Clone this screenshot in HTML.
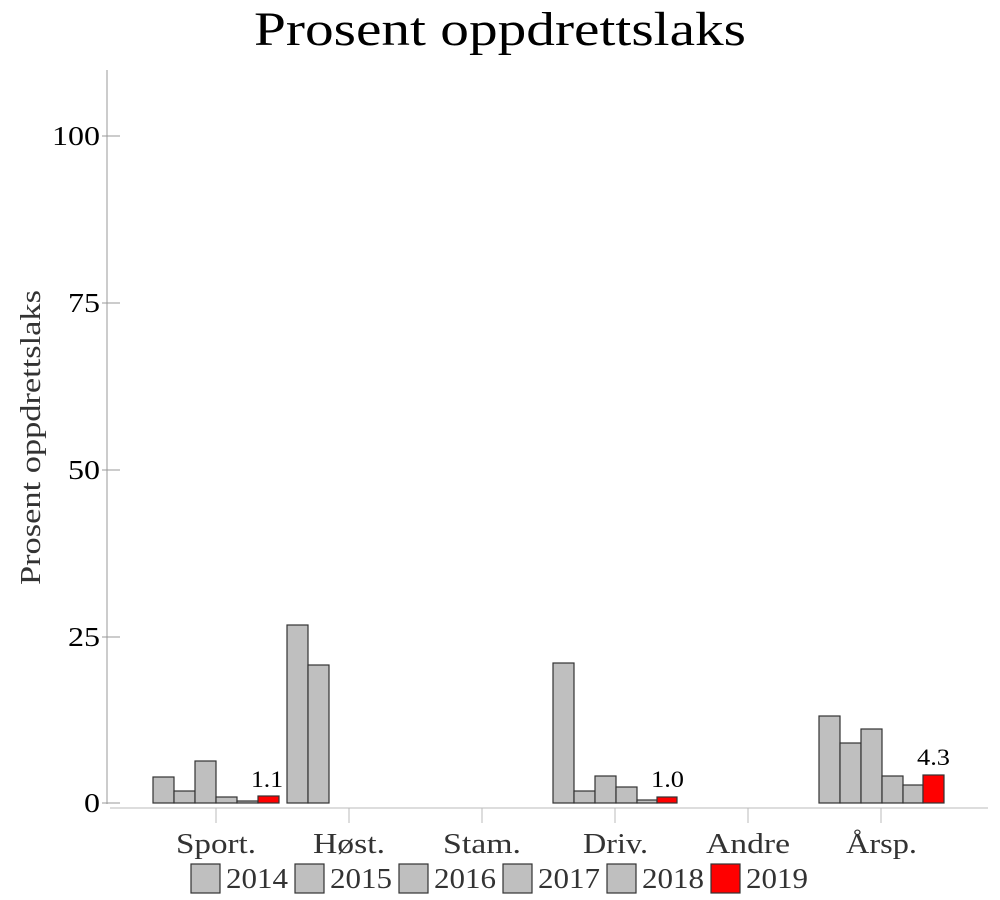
<!DOCTYPE html>
<html><head><meta charset="utf-8"><style>html,body{margin:0;background:#fff}svg{display:block}</style></head><body>
<svg width="1000" height="900" xmlns="http://www.w3.org/2000/svg" font-family="'Liberation Serif',serif">
<text x="254" y="45" font-size="48" fill="#000" textLength="492" lengthAdjust="spacingAndGlyphs">Prosent oppdrettslaks</text>
<text transform="translate(40,585) rotate(-90)" font-size="28" fill="#333" textLength="295" lengthAdjust="spacingAndGlyphs">Prosent oppdrettslaks</text>
<line x1="107" y1="70" x2="107" y2="804" stroke="#999"/>
<g stroke="#999"><line x1="102" y1="136" x2="120" y2="136"/><line x1="102" y1="303" x2="120" y2="303"/><line x1="102" y1="470" x2="120" y2="470"/><line x1="102" y1="637" x2="120" y2="637"/><line x1="102" y1="803" x2="120" y2="803"/></g>
<g font-size="27" fill="#000">
<text x="52" y="145" textLength="48" lengthAdjust="spacingAndGlyphs">100</text>
<text x="68" y="312" textLength="32" lengthAdjust="spacingAndGlyphs">75</text>
<text x="68" y="479" textLength="32" lengthAdjust="spacingAndGlyphs">50</text>
<text x="68" y="646" textLength="32" lengthAdjust="spacingAndGlyphs">25</text>
<text x="84" y="812" textLength="16" lengthAdjust="spacingAndGlyphs">0</text></g>
<line x1="110" y1="808" x2="988" y2="808" stroke="#bbb"/>
<g stroke="#bbb"><line x1="216" y1="808" x2="216" y2="823"/><line x1="349" y1="808" x2="349" y2="823"/><line x1="482" y1="808" x2="482" y2="823"/><line x1="615" y1="808" x2="615" y2="823"/><line x1="748" y1="808" x2="748" y2="823"/><line x1="881" y1="808" x2="881" y2="823"/></g>
<g font-size="28" fill="#333" lengthAdjust="spacingAndGlyphs">
<text x="176" y="853" textLength="80" lengthAdjust="spacingAndGlyphs">Sport.</text>
<text x="313" y="853" textLength="72" lengthAdjust="spacingAndGlyphs">Høst.</text>
<text x="443" y="853" textLength="78" lengthAdjust="spacingAndGlyphs">Stam.</text>
<text x="583" y="853" textLength="65" lengthAdjust="spacingAndGlyphs">Driv.</text>
<text x="706" y="853" textLength="84" lengthAdjust="spacingAndGlyphs">Andre</text>
<text x="846" y="853" textLength="71" lengthAdjust="spacingAndGlyphs">Årsp.</text></g>
<g stroke="#333" stroke-width="1.2" fill="#bfbfbf">
<rect x="153" y="777" width="21" height="26"/><rect x="174" y="791" width="21" height="12"/><rect x="195" y="761" width="21" height="42"/><rect x="216" y="797" width="21" height="6"/><rect x="237" y="801" width="21" height="2"/><rect x="258" y="796" width="21" height="7" fill="#f00"/>
<rect x="287" y="625" width="21" height="178"/><rect x="308" y="665" width="21" height="138"/>
<rect x="553" y="663" width="21" height="140"/><rect x="574" y="791" width="21" height="12"/><rect x="595" y="776" width="21" height="27"/><rect x="616" y="787" width="21" height="16"/><rect x="637" y="800" width="20" height="3"/><rect x="657" y="797" width="20" height="6" fill="#f00"/>
<rect x="819" y="716" width="21" height="87"/><rect x="840" y="743" width="21" height="60"/><rect x="861" y="729" width="21" height="74"/><rect x="882" y="776" width="21" height="27"/><rect x="903" y="785" width="20" height="18"/><rect x="923" y="775" width="21" height="28" fill="#f00"/>
</g>
<g font-size="23" fill="#000">
<text x="251" y="787" textLength="32" lengthAdjust="spacingAndGlyphs">1.1</text>
<text x="651" y="787" textLength="33" lengthAdjust="spacingAndGlyphs">1.0</text>
<text x="917" y="765" textLength="33" lengthAdjust="spacingAndGlyphs">4.3</text></g>
<g stroke="#333" stroke-width="1.2" fill="#bfbfbf">
<rect x="191" y="864" width="29" height="29"/><rect x="295" y="864" width="29" height="29"/><rect x="399" y="864" width="29" height="29"/><rect x="503" y="864" width="29" height="29"/><rect x="607" y="864" width="29" height="29"/><rect x="711" y="864" width="29" height="29" fill="#f00"/>
</g>
<g font-size="28" fill="#333">
<text x="226" y="888" textLength="62" lengthAdjust="spacingAndGlyphs">2014</text>
<text x="330" y="888" textLength="62" lengthAdjust="spacingAndGlyphs">2015</text>
<text x="434" y="888" textLength="62" lengthAdjust="spacingAndGlyphs">2016</text>
<text x="538" y="888" textLength="62" lengthAdjust="spacingAndGlyphs">2017</text>
<text x="642" y="888" textLength="62" lengthAdjust="spacingAndGlyphs">2018</text>
<text x="746" y="888" textLength="62" lengthAdjust="spacingAndGlyphs">2019</text></g>
</svg>
</body></html>
